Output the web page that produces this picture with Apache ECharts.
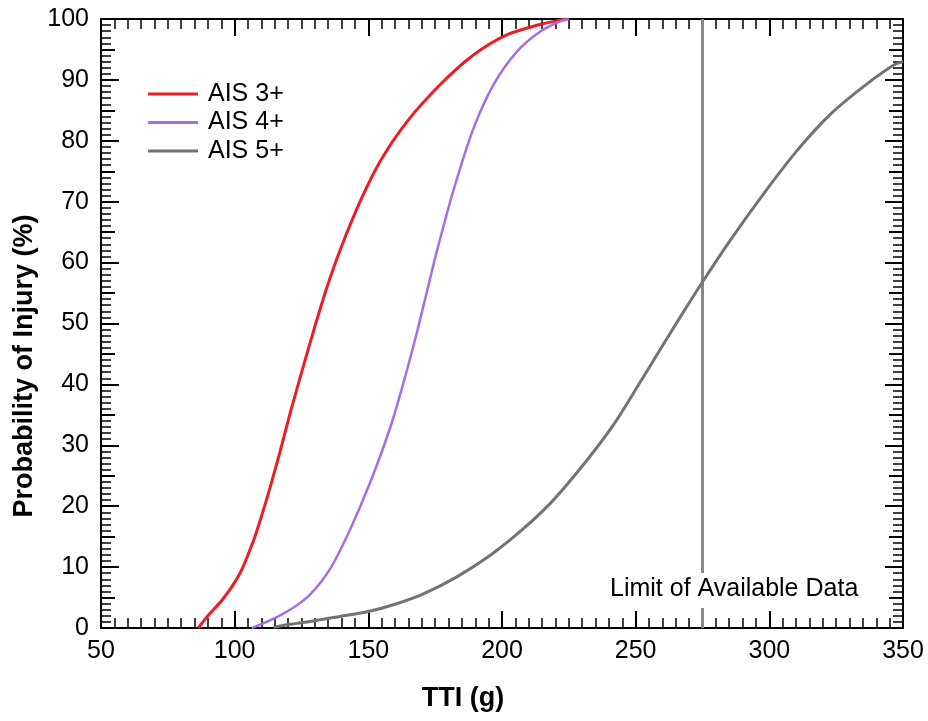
<!DOCTYPE html>
<html>
<head>
<meta charset="utf-8">
<script src="https://cdn.jsdelivr.net/npm/echarts@6/dist/echarts.min.js"></script>
<style>
html,body{margin:0;padding:0;background:#fff;}
#chart{width:928px;height:721px;}
</style>
</head>
<body>
<div id="chart"></div>
<script>
// ---- data ----
var ais3 = [[86.4,0],[90,2],[95.7,4.8],[102,9],[107,14.3],[110,18.3],[113.2,23],[117,29],[120.7,35.2],[125.7,43],[130,49.5],[134.4,55.8],[139.4,62],[146.9,70],[154.4,76.6],[164.4,83.1],[176.8,89.2],[189.3,94.1],[201.8,97.4],[214.2,99.1],[221.7,99.8],[224,100]];
var ais4 = [[106.4,0],[113,1.2],[120.7,3],[128.2,5.5],[135.7,9.7],[143.1,16.1],[150.6,23.8],[158.1,32.8],[163.1,40.2],[168.1,48.4],[171.8,55],[175.6,61.8],[181.8,71.8],[189.3,82],[196.8,89.2],[205.5,94.6],[214.2,97.9],[221.7,99.6],[225,100]];
var ais5 = [[114.5,0.1],[120.7,0.6],[130,1.2],[139.4,1.9],[150,2.7],[160,3.9],[170.6,5.6],[183.1,8.4],[195.5,11.9],[208,16.3],[219.2,21],[231.7,27.5],[241.6,33.3],[251.6,40.3],[259,45.6],[266.6,51],[274.7,56.6],[285.3,63.6],[297.7,71.2],[310.2,78.3],[322.7,84.3],[335.2,88.9],[346.4,92.4],[350,93]];
var limitX = 275;
var limitLine = [[limitX,0],[limitX,100]];
var seriesNames = ['AIS 3+','AIS 4+','AIS 5+'];
var xTicks = [50,100,150,200,250,300,350];
var yTicks = [0,10,20,30,40,50,60,70,80,90,100];
var xTitle = 'TTI (g)';
var yTitle = 'Probability of Injury (%)';
var limitLabel = 'Limit of Available Data';

var FONT = 'Liberation Sans, Arial, sans-serif';
var chart = echarts.init(document.getElementById('chart'), null, {renderer:'canvas'});

function xAx(pos, interval, tickLen, showLabel, showLine, minor) {
  return {
    type:'value', position:pos, min:xTicks[0], max:xTicks[xTicks.length-1], interval:interval,
    axisLine:{show:showLine, onZero:false, lineStyle:{color:'#000', width:2}},
    axisTick:{show:true, inside:true, length:tickLen, lineStyle:{color:'#000', width:2}},
    minorTick:{show:minor, splitNumber:10, length:10, lineStyle:{color:'#000', width:1.5}},
    splitLine:{show:false}, minorSplitLine:{show:false},
    axisLabel:{show:showLabel, color:'#000', fontSize:25, fontFamily:FONT, margin:11}
  };
}
function yAx(pos, interval, tickLen, showLabel, showLine, minor) {
  return {
    type:'value', position:pos, min:yTicks[0], max:yTicks[yTicks.length-1], interval:interval,
    axisLine:{show:showLine, onZero:false, lineStyle:{color:'#000', width:2}},
    axisTick:{show:true, inside:true, length:tickLen, lineStyle:{color:'#000', width:2}},
    minorTick:{show:minor, splitNumber:10, length:10, lineStyle:{color:'#000', width:1.5}},
    splitLine:{show:false}, minorSplitLine:{show:false},
    axisLabel:{show:showLabel, color:'#000', fontSize:25, fontFamily:FONT, margin:12}
  };
}

var option = {
  backgroundColor:'#fff',
  animation:false,
  grid:{left:101, right:25, top:19, bottom:93},
  xAxis:[
    xAx('bottom', 50, 17, true, true, true),
    xAx('top', 50, 17, false, true, true)
  ],
  yAxis:[
    yAx('left', 10, 18, true, true, true),
    yAx('right', 10, 18, false, true, true),
    yAx('left', 5, 14, false, false, false),
    yAx('right', 5, 14, false, false, false)
  ],
  legend:{
    orient:'vertical', left:148, top:80, padding:0, itemWidth:50, itemHeight:3, itemGap:0.5,
    icon:'rect', data:seriesNames,
    textStyle:{color:'#000', fontSize:25, fontFamily:FONT, lineHeight:28, padding:[0,0,0,5]}
  },
  series:[
    {name:'Limit', type:'line', data:limitLine, symbol:'none', xAxisIndex:0, yAxisIndex:0,
     lineStyle:{color:'#888', width:3}, silent:true, z:1},
    {name:seriesNames[0], type:'line', data:ais3, symbol:'none', smooth:0.3,
     itemStyle:{color:'#ee1c23'}, lineStyle:{color:'#ee1c23', width:3}, z:3},
    {name:seriesNames[1], type:'line', data:ais4, symbol:'none', smooth:0.3,
     itemStyle:{color:'#a36ee8'}, lineStyle:{color:'#a36ee8', width:2.5}, z:3},
    {name:seriesNames[2], type:'line', data:ais5, symbol:'none', smooth:0.3,
     itemStyle:{color:'#737373'}, lineStyle:{color:'#737373', width:3}, z:3}
  ],
  graphic:[
    {type:'text', left:610, top:573, z:10, style:{text:limitLabel, fill:'#000', fontSize:25, fontFamily:FONT, backgroundColor:'#fff', padding:[4,0,6,0]}},
    {type:'text', x:463, y:699, style:{text:xTitle, fill:'#000', fontSize:27, fontWeight:'bold', fontFamily:FONT, align:'center', verticalAlign:'middle'}},
    {type:'text', x:25, y:366, rotation:Math.PI/2, style:{text:yTitle, fill:'#000', fontSize:27, fontWeight:'bold', fontFamily:FONT, align:'center', verticalAlign:'middle'}}
  ]
};
chart.setOption(option);
</script>
</body>
</html>
